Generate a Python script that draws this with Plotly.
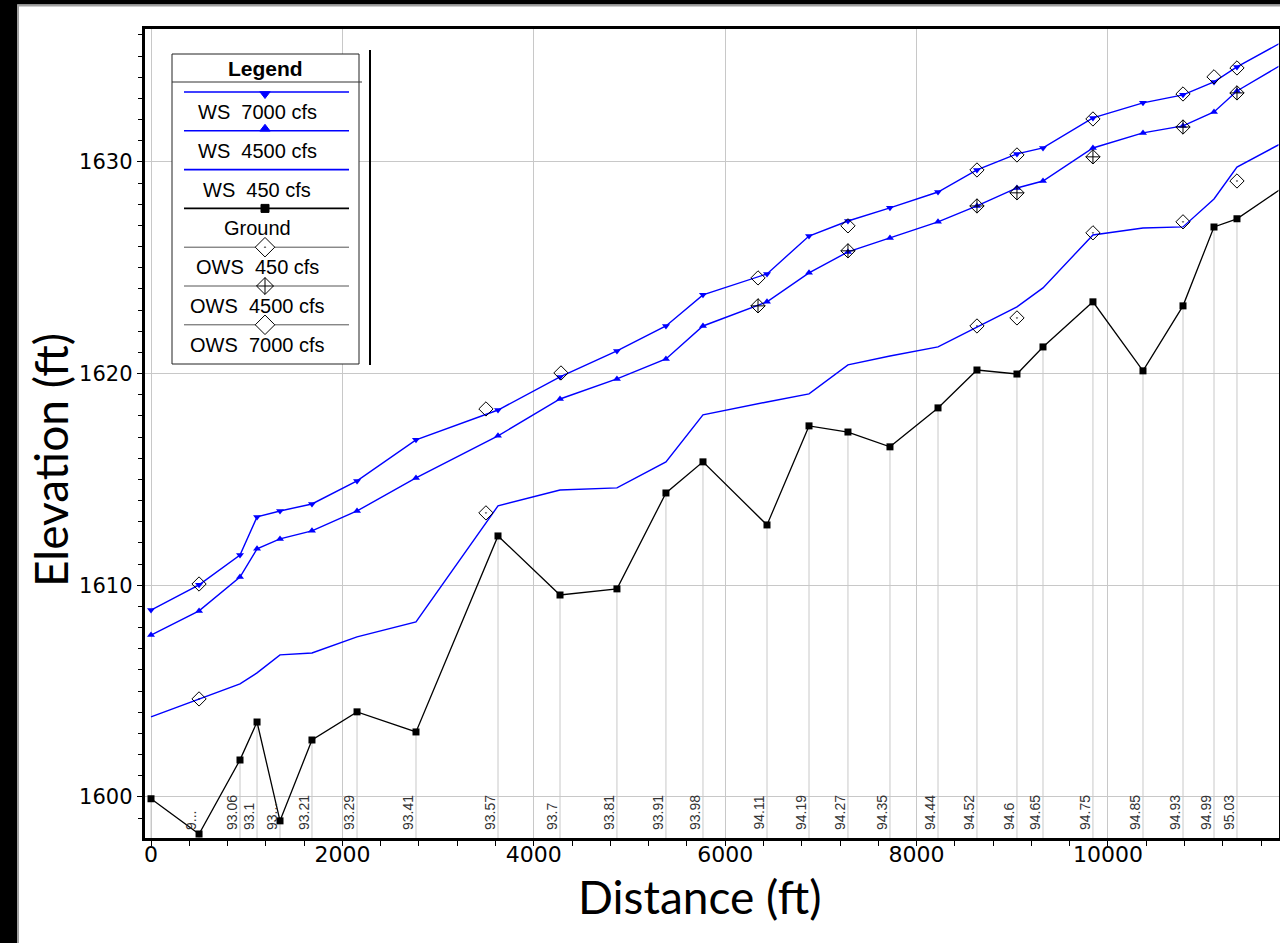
import plotly.graph_objects as go

# ---------------------------------------------------------------------------
# Profile data: distance along the channel (ft) at each river station
# ---------------------------------------------------------------------------
distance_ft = [0, 502, 930, 1108, 1348, 1682, 2153, 2769, 3626, 4274, 4869, 5381,
               5768, 6437, 6876, 7283, 7722, 8224, 8631, 9049, 9321, 9843, 10366,
               10784, 11108, 11348, 11900]
station_labels = ["", "9...", "93.06", "93.1", "93...", "93.21", "93.29", "93.41",
                  "93.57", "93.7", "93.81", "93.91", "93.98", "94.11", "94.19", "94.27",
                  "94.35", "94.44", "94.52", "94.6", "94.65", "94.75", "94.85", "94.93",
                  "94.99", "95.03", ""]

ground_elev = [1599.91, 1598.25, 1601.75, 1603.54, 1598.87, 1602.69, 1604.02, 1603.07,
               1612.33, 1609.54, 1609.83, 1614.36, 1615.83, 1612.85, 1617.53, 1617.24,
               1616.54, 1618.38, 1620.17, 1619.98, 1621.26, 1623.39, 1620.13, 1623.20,
               1626.93, 1627.31, 1629.01]
ws_7000 = [1608.83, 1610.02, 1611.43, 1613.23, 1613.51, 1613.84, 1614.93, 1616.87,
           1618.28, 1619.84, 1621.07, 1622.25, 1623.72, 1624.71, 1626.50, 1627.21,
           1627.83, 1628.58, 1629.62, 1630.38, 1630.66, 1632.08, 1632.79, 1633.17,
           1633.78, 1634.49, 1635.86]
ws_4500 = [1607.65, 1608.79, 1610.39, 1611.72, 1612.19, 1612.57, 1613.51, 1615.07,
           1617.06, 1618.80, 1619.75, 1620.69, 1622.25, 1623.39, 1624.76, 1625.75,
           1626.41, 1627.17, 1627.92, 1628.77, 1629.10, 1630.66, 1631.37, 1631.70,
           1632.36, 1633.35, 1634.82]
ws_450 = [1603.78, 1604.63, 1605.34, 1605.86, 1606.71, 1606.80, 1607.56, 1608.27,
          1613.75, 1614.50, 1614.60, 1615.83, 1618.05, 1618.66, 1619.04, 1620.41,
          1620.83, 1621.26, 1622.20, 1623.15, 1624.05, 1626.55, 1626.88, 1626.93,
          1628.25, 1629.76, 1631.09]

# Observed water surfaces
ows_7000_x = [502, 3500, 4284, 6343, 7283, 8631, 9049, 9843, 10784, 11108, 11348]
ows_7000_y = [1610.06, 1618.33, 1620.03, 1624.52, 1626.98, 1629.62, 1630.33, 1632.03,
              1633.21, 1634.02, 1634.44]
ows_4500_x = [6343, 7283, 8631, 9049, 9843, 10784, 11348]
ows_4500_y = [1623.20, 1625.80, 1627.92, 1628.54, 1630.24, 1631.65, 1633.26]
ows_450_x = [502, 3500, 8631, 9049, 9843, 10784, 11348]
ows_450_y = [1604.63, 1613.42, 1622.25, 1622.63, 1626.65, 1627.17, 1629.10]

x_ticks = [0, 2000, 4000, 6000, 8000, 10000]
y_ticks = [1600, 1610, 1620, 1630]

legend_entries = ["WS\u00a0 7000 cfs", "WS\u00a0 4500 cfs", "WS\u00a0 450 cfs", "Ground",
                  "OWS\u00a0 450 cfs", "OWS\u00a0 4500 cfs", "OWS\u00a0 7000 cfs"]

# ---------------------------------------------------------------------------
# Page geometry (pixels) and axis ranges
# ---------------------------------------------------------------------------
W, H = 1280, 943
PLOT_L, PLOT_R, PLOT_T, PLOT_B = 144.5, 1278.5, 29, 838
X_RANGE = [-68, 11782]
Y_RANGE = [1598.06, 1636.28]

BLUE = "#0000ff"
GRID = "#c8c8c8"


def px_x(p):
    return X_RANGE[0] + (p - PLOT_L) / (PLOT_R - PLOT_L) * (X_RANGE[1] - X_RANGE[0])


def px_y(p):
    return Y_RANGE[1] - (p - PLOT_T) / (PLOT_B - PLOT_T) * (Y_RANGE[1] - Y_RANGE[0])


fig = go.Figure()

# vertical drop lines from the axis up to the ground at each station
drop_x, drop_y = [], []
for d, g in zip(distance_ft, ground_elev):
    drop_x += [d, d, None]
    drop_y += [Y_RANGE[0] - 1, g, None]
fig.add_trace(go.Scatter(x=drop_x, y=drop_y, mode="lines",
                         line=dict(color=GRID, width=1), hoverinfo="skip",
                         showlegend=False))

fig.add_trace(go.Scatter(x=distance_ft, y=ground_elev, mode="lines+markers",
                         name="Ground", line=dict(color="black", width=1.3),
                         marker=dict(symbol="square", size=7, color="black"),
                         showlegend=False))
fig.add_trace(go.Scatter(x=distance_ft, y=ws_450, mode="lines", name="WS 450 cfs",
                         line=dict(color=BLUE, width=1.4), showlegend=False))
fig.add_trace(go.Scatter(x=distance_ft, y=ws_4500, mode="lines+markers",
                         name="WS 4500 cfs", line=dict(color=BLUE, width=1.4),
                         marker=dict(symbol="triangle-up", size=7, color=BLUE),
                         showlegend=False))
fig.add_trace(go.Scatter(x=distance_ft, y=ws_7000, mode="lines+markers",
                         name="WS 7000 cfs", line=dict(color=BLUE, width=1.4),
                         marker=dict(symbol="triangle-down", size=7, color=BLUE),
                         showlegend=False))

fig.add_trace(go.Scatter(x=ows_450_x, y=ows_450_y, mode="markers", name="OWS 450 cfs",
                         marker=dict(symbol="diamond-open-dot", size=11, color="black",
                                     line=dict(width=1)), showlegend=False))
fig.add_trace(go.Scatter(x=ows_4500_x, y=ows_4500_y, mode="markers", name="OWS 4500 cfs",
                         marker=dict(symbol="diamond-cross-open", size=11, color="black",
                                     line=dict(width=1)), showlegend=False))
fig.add_trace(go.Scatter(x=ows_7000_x, y=ows_7000_y, mode="markers", name="OWS 7000 cfs",
                         marker=dict(symbol="diamond-open", size=11, color="black",
                                     line=dict(width=1)), showlegend=False))

# station labels, rotated, sitting on the distance axis
annotations = []
for d, lab in zip(distance_ft, station_labels):
    if not lab:
        continue
    annotations.append(dict(x=d, xref="x", y=1 - 832 / H, yref="paper",
                            text=lab, textangle=-90, showarrow=False,
                            xanchor="right", yanchor="bottom", xshift=1.5,
                            font=dict(family="Liberation Sans, Arial", size=14,
                                      color="#333333")))

# ---------------------------------------------------------------------------
# Legend block (line sample above each caption)
# ---------------------------------------------------------------------------
LEG_L, LEG_R, LEG_T, LEG_B = 172, 359, 54, 364
LEG_CX = 265
ROW0, ROW_STEP = 92, 38.8
line_colors = [BLUE, BLUE, BLUE, "black", "#555555", "#555555", "#555555"]
line_widths = [1.6, 1.6, 1.6, 1.6, 1, 1, 1]
marker_syms = ["triangle-down", "triangle-up", None, "square", "diamond-dot",
               "diamond-cross", "diamond"]
marker_sizes = [9, 9, 0, 8, 15, 13, 15]
marker_fill = [BLUE, BLUE, BLUE, "black", "white", "white", "white"]
marker_line = [BLUE, BLUE, BLUE, "black", "black", "black", "black"]
marker_dy = [2, -2, 0, 0, 0, 0, 0]

shapes = [
    dict(type="rect", xref="x", yref="y", x0=px_x(LEG_L), x1=px_x(LEG_R),
         y0=px_y(LEG_T), y1=px_y(LEG_B), fillcolor="white",
         line=dict(color="#222222", width=1), layer="between"),
    dict(type="line", xref="paper", yref="paper", x0=LEG_L / W, x1=362 / W,
         y0=1 - 82 / H, y1=1 - 82 / H, line=dict(color="#333333", width=1),
         layer="above"),
    dict(type="line", xref="paper", yref="paper", x0=370 / W, x1=370 / W,
         y0=1 - 50 / H, y1=1 - 365 / H, line=dict(color="black", width=2),
         layer="above"),
]

annotations.append(dict(x=LEG_CX / W, y=1 - 68 / H, xref="paper", yref="paper",
                        text="<b>Legend</b>", showarrow=False, xanchor="center",
                        yanchor="middle",
                        font=dict(family="Liberation Sans, Arial", size=21,
                                  color="black")))

for i, label in enumerate(legend_entries):
    ly = ROW0 + i * ROW_STEP
    fig.add_trace(go.Scatter(x=[px_x(184), px_x(349)], y=[px_y(ly), px_y(ly)],
                             mode="lines", line=dict(color=line_colors[i],
                                                     width=line_widths[i]),
                             hoverinfo="skip", showlegend=False))
    if marker_syms[i]:
        fig.add_trace(go.Scatter(x=[px_x(LEG_CX)], y=[px_y(ly + marker_dy[i])],
                                 mode="markers", hoverinfo="skip", showlegend=False,
                                 marker=dict(symbol=marker_syms[i], size=marker_sizes[i],
                                             color=marker_fill[i],
                                             line=dict(color=marker_line[i], width=1))))
    annotations.append(dict(x=257 / W, y=1 - (ly + 20) / H, xref="paper",
                            yref="paper", text=label, showarrow=False,
                            xanchor="center", yanchor="middle",
                            font=dict(family="Liberation Sans, Arial", size=20,
                                      color="black")))

# axis titles
annotations.append(dict(x=699 / W, y=1 - 896 / H, xref="paper", yref="paper",
                        text="Distance (ft)", showarrow=False, xanchor="center",
                        yanchor="middle", borderpad=0,
                        font=dict(family="Lato, Open Sans", size=46, color="black")))
annotations.append(dict(x=50 / W, y=1 - 460 / H, xref="paper", yref="paper",
                        text="Elevation (ft)", showarrow=False, textangle=-90,
                        xanchor="center", yanchor="middle", borderpad=0,
                        font=dict(family="Lato, Open Sans", size=46, color="black")))

# window frame: dark bands on the left and top edges
shapes += [
    dict(type="rect", xref="paper", yref="paper", x0=0, x1=17 / W, y0=0, y1=1,
         fillcolor="black", line=dict(width=0), layer="above"),
    dict(type="rect", xref="paper", yref="paper", x0=0, x1=1, y0=1 - 4.5 / H, y1=1,
         fillcolor="black", line=dict(width=0), layer="above"),
    dict(type="line", xref="paper", yref="paper", x0=18 / W, x1=18 / W, y0=0,
         y1=1 - 5 / H, line=dict(color="#a0a0a0", width=2), layer="above"),
    dict(type="line", xref="paper", yref="paper", x0=18 / W, x1=1, y0=1 - 5.5 / H,
         y1=1 - 5.5 / H, line=dict(color="#a0a0a0", width=2), layer="above"),
]

fig.update_layout(
    width=W, height=H, autosize=False,
    margin=dict(l=0, r=0, t=0, b=0),
    paper_bgcolor="white", plot_bgcolor="white",
    showlegend=False,
    shapes=shapes, annotations=annotations,
    xaxis=dict(domain=[PLOT_L / W, PLOT_R / W], range=X_RANGE,
               tickvals=x_ticks, tickformat="d",
               showgrid=True, gridcolor=GRID, gridwidth=1, zeroline=False,
               showline=True, linecolor="black", linewidth=2.5, mirror=True,
               ticks="outside", ticklen=5, tickcolor="black", tickwidth=1,
               ticklabelstandoff=-10,
               minor=dict(dtick=400, tick0=0, ticks="outside", ticklen=5,
                          tickcolor="black", showgrid=False),
               tickfont=dict(family="DejaVu Sans", size=22, color="black")),
    yaxis=dict(domain=[1 - PLOT_B / H, 1 - PLOT_T / H], range=Y_RANGE,
               tickvals=y_ticks, tickformat="d",
               showgrid=True, gridcolor=GRID, gridwidth=1, zeroline=False,
               showline=True, linecolor="black", linewidth=2.5, mirror=True,
               ticks="outside", ticklen=5, tickcolor="black", tickwidth=1,
               minor=dict(dtick=1, tick0=1600, ticks="outside", ticklen=4,
                          tickcolor="black", showgrid=False),
               tickfont=dict(family="DejaVu Sans", size=21, color="black")),
)

fig.write_html("out.html")
